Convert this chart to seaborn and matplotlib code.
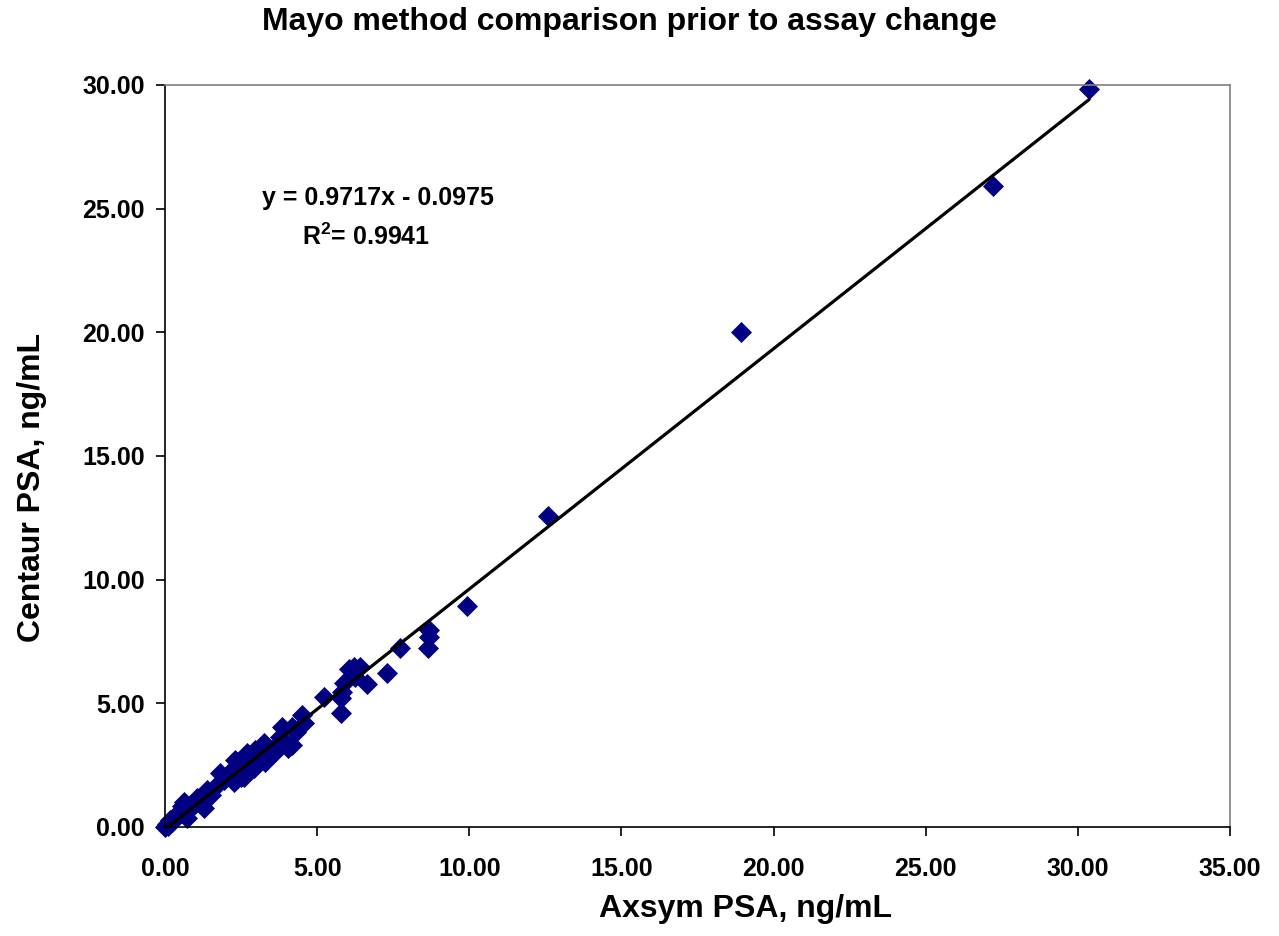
import numpy as np
import pandas as pd
import seaborn as sns
import matplotlib.pyplot as plt

# Axsym vs Centaur PSA values (ng/mL)
axsym = [0.01, 0.05, 0.10, 0.17, 0.22, 0.30, 0.39, 0.45, 0.55, 0.61, 0.61, 0.72,
         0.85, 1.05, 1.15, 1.27, 1.38, 1.50, 1.76, 1.82, 1.95, 2.09, 2.26, 2.31,
         2.40, 2.50, 2.59, 2.59, 2.70, 2.80, 2.91, 2.97, 3.05, 3.24, 3.30, 3.50,
         3.63, 3.68, 3.79, 3.85, 4.05, 4.18, 4.18, 4.29, 4.50, 4.56, 5.24, 5.79,
         5.80, 5.82, 5.87, 6.04, 6.20, 6.26, 6.42, 6.64, 7.28, 7.72, 8.64, 8.67,
         8.67, 9.94, 12.58, 18.92, 27.20, 30.37]
centaur = [0.00, 0.10, 0.05, 0.30, 0.20, 0.35, 0.49, 0.60, 0.85, 1.02, 0.77, 0.35,
           0.75, 1.16, 1.00, 0.76, 1.50, 1.30, 1.77, 2.17, 1.90, 2.17, 1.83, 2.71,
           2.30, 2.00, 2.71, 2.03, 2.98, 2.60, 2.37, 3.11, 2.95, 3.38, 2.64, 3.10,
           3.05, 3.32, 3.65, 4.06, 3.20, 3.32, 4.06, 3.85, 4.53, 4.20, 5.27, 4.62,
           5.20, 5.47, 5.81, 6.38, 6.48, 6.08, 6.48, 5.78, 6.21, 7.25, 7.23, 7.97,
           7.67, 8.94, 12.58, 20.02, 25.92, 29.84]

# Excel trendline shown on the chart
slope = 0.9717
intercept = -0.0975
r_squared = 0.9941

x_ticks = np.arange(0, 36, 5)
y_ticks = np.arange(0, 31, 5)

df = pd.DataFrame({"Axsym": axsym, "Centaur": centaur})
trend = pd.DataFrame({"x": [min(axsym), max(axsym)]})
trend["y"] = slope * trend["x"] + intercept

sns.set_style("white")
plt.rcParams['font.family'] = ['Liberation Sans', 'DejaVu Sans']
plt.rcParams['mathtext.fontset'] = 'custom'
plt.rcParams['mathtext.bf'] = 'Liberation Sans:bold'
plt.rcParams['text.color'] = 'black'
plt.rcParams['axes.labelcolor'] = 'black'
plt.rcParams['xtick.color'] = 'black'
plt.rcParams['ytick.color'] = 'black'

fig = plt.figure(figsize=(12.79, 9.36), dpi=100)
ax = fig.add_axes([0.129, 0.1165, 0.8327, 0.7927])

sns.scatterplot(data=df, x="Axsym", y="Centaur", marker="D", s=115,
                color="#000080", edgecolor="#000080", linewidth=0, ax=ax,
                zorder=2, clip_on=False)
sns.lineplot(data=trend, x="x", y="y", color="black", linewidth=2.3, ax=ax, zorder=3)

ax.set_xlim(0, 35)
ax.set_ylim(0, 30)
ax.set_xticks(x_ticks)
ax.set_yticks(y_ticks)
ax.set_xticklabels([f"{v:.2f}" for v in x_ticks], fontsize=18, fontweight="bold")
ax.set_yticklabels([f"{v:.2f}" for v in y_ticks], fontsize=18, fontweight="bold")
ax.tick_params(bottom=True, left=True, direction="out", length=6.5, width=1.2,
               color="black")
ax.tick_params(axis="x", pad=15)
ax.tick_params(axis="y", pad=8)

for side in ["left", "bottom"]:
    ax.spines[side].set_color("black")
    ax.spines[side].set_linewidth(1.2)
for side in ["top", "right"]:
    ax.spines[side].set_color("#808080")
    ax.spines[side].set_linewidth(1.2)

ax.set_xlabel("Axsym PSA, ng/mL", fontsize=23, fontweight="bold")
ax.set_ylabel("Centaur PSA, ng/mL", fontsize=23, fontweight="bold")
ax.xaxis.set_label_coords(0.545, -0.09)
ax.yaxis.set_label_coords(-0.111, 0.458)

fig.suptitle("Mayo method comparison prior to assay change", fontsize=23,
             fontweight="bold", x=0.492, y=0.977, va="center")

ax.text(0.2, 0.848, f"y = {slope:.4f}x - {abs(intercept):.4f}",
        transform=ax.transAxes, ha="center", va="center", fontsize=18, fontweight="bold")
ax.text(0.189, 0.795, r"R$^{\mathbf{2}}$" + f"= {r_squared:.4f}",
        transform=ax.transAxes, ha="center", va="center", fontsize=18, fontweight="bold")

fig.savefig("out.png", dpi=100)
